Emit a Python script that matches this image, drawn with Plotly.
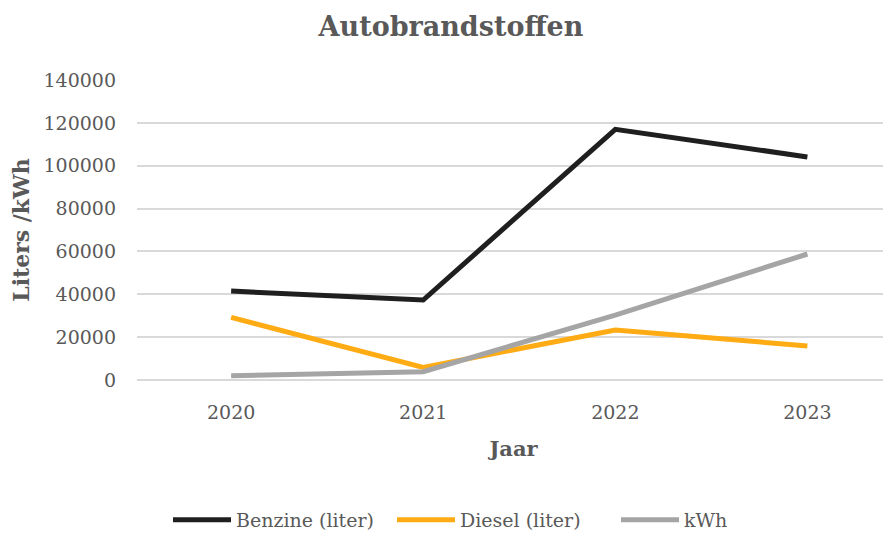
import plotly.graph_objects as go

years = ["2020", "2021", "2022", "2023"]
benzine = [41500, 37300, 117000, 104100]
diesel = [29200, 5900, 23300, 15900]
kwh = [2000, 3900, 30300, 58800]
y_ticks = [0, 20000, 40000, 60000, 80000, 100000, 120000, 140000]

FONT = "DejaVu Serif"
GREY = "#595959"
W, H = 883, 525

fig = go.Figure()
for name, vals, col in [("Benzine (liter)", benzine, "#1f1f1f"),
                        ("Diesel (liter)", diesel, "#FFAB14"),
                        ("kWh", kwh, "#A5A5A5")]:
    fig.add_trace(go.Scatter(x=list(range(len(years))), y=vals, name=name, mode="lines",
                             line=dict(color=col, width=5)))

fig.update_layout(
    width=W, height=H,
    paper_bgcolor="white", plot_bgcolor="white",
    margin=dict(l=129, r=1, t=72, b=153),
    font=dict(family=FONT, color=GREY, size=19),
    title=dict(text="<b>Autobrandstoffen</b>", x=443 / W, xref="container", y=1 - 19 / H,
               yanchor="middle", xanchor="center", font=dict(size=27, color=GREY, family=FONT)),
    xaxis=dict(range=[-0.49, 3.43], tickmode="array", tickvals=list(range(len(years))),
               ticktext=years, showgrid=False, zeroline=False, showline=False,
               ticks="", ticklabelstandoff=19, tickfont=dict(size=19),
               title=dict(text="<b>Jaar</b>", font=dict(size=21, color=GREY), standoff=19)),
    yaxis=dict(range=[0, 140000], tickvals=y_ticks, tickformat="d", tickfont=dict(size=19),
               gridcolor="#d9d9d9", gridwidth=1.5, zeroline=True, zerolinecolor="#d9d9d9",
               zerolinewidth=1.5, showline=False, ticks="", ticklabelstandoff=20,
               title=dict(text="<b>Liters /kWh</b>", font=dict(size=22, color=GREY), standoff=12)),
    legend=dict(orientation="h", xref="container", yref="container", x=160 / W, xanchor="left",
                y=1 - 512 / H, yanchor="middle", font=dict(size=19, color=GREY), itemwidth=58,
                entrywidth=151),
    showlegend=True,
)

fig.write_html("out.html")
